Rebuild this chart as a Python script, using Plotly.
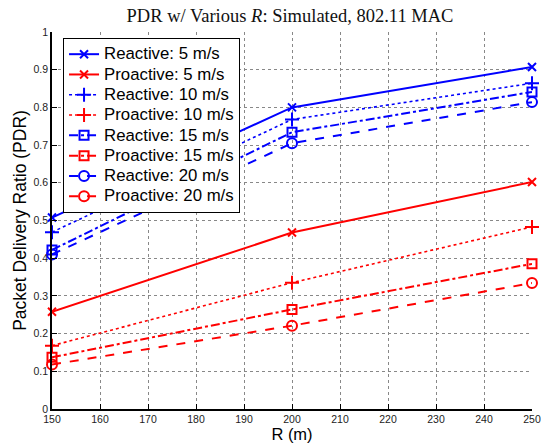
import plotly.graph_objects as go

R = [150, 200, 250]
reactive_5 = [0.508, 0.800, 0.907]
proactive_5 = [0.258, 0.468, 0.602]
reactive_10 = [0.469, 0.768, 0.864]
proactive_10 = [0.168, 0.335, 0.483]
reactive_15 = [0.422, 0.734, 0.841]
proactive_15 = [0.137, 0.264, 0.385]
reactive_20 = [0.410, 0.705, 0.814]
proactive_20 = [0.118, 0.221, 0.334]

names = ["Reactive: 5 m/s", "Proactive: 5 m/s", "Reactive: 10 m/s", "Proactive: 10 m/s",
         "Reactive: 15 m/s", "Proactive: 15 m/s", "Reactive: 20 m/s", "Proactive: 20 m/s"]
series = [reactive_5, proactive_5, reactive_10, proactive_10,
          reactive_15, proactive_15, reactive_20, proactive_20]
colors = ["#0000ff", "#ff0000"] * 4
dashes = ["solid", "solid", "dot", "dot", "dashdot", "dashdot", "dash", "dash"]
widths = [2, 2, 1.6, 1.6, 2, 2, 2, 2]
symbols = ["x-thin-open", "x-thin-open", "cross-thin-open", "cross-thin-open",
           "square-open", "square-open", "circle-open", "circle-open"]
sizes = [8, 8, 10, 10, 9, 9, 10, 10]

fig = go.Figure()
for n, y, c, d, w, s, sz in zip(names, series, colors, dashes, widths, symbols, sizes):
    fig.add_trace(go.Scatter(
        x=R, y=y, mode="lines+markers", cliponaxis=False,
        name='<span style="font-size:16.8px">' + n + '</span>',
        line=dict(color=c, width=w, dash=d),
        marker=dict(symbol=s, size=sz, color=c, line=dict(color=c, width=2)),
    ))

fig.update_layout(
    width=541, height=445,
    margin=dict(l=52, r=9, t=32, b=36),
    paper_bgcolor="white", plot_bgcolor="white",
    title=dict(text="PDR w/ Various <i>R</i>: Simulated, 802.11 MAC",
               x=0.536, xanchor="center", y=0.966, yanchor="middle",
               font=dict(family="Liberation Serif", size=18.5, color="#111")),
    font=dict(family="Liberation Sans", color="#222"),
    showlegend=True,
    legend=dict(x=0.023, y=0.984, xanchor="left", yanchor="top",
                bgcolor="white", bordercolor="black", borderwidth=1,
                font=dict(family="Liberation Sans", size=13.3, color="black"),
                tracegroupgap=0, itemwidth=30),
)
fig.update_xaxes(
    range=[150, 250], dtick=10, tick0=150, automargin=False,
    showline=True, linecolor="black", linewidth=1.5, mirror=False,
    ticks="inside", ticklen=5, tickcolor="black",
    showgrid=True, gridcolor="#888", griddash="dot", gridwidth=1,
    zeroline=False, ticklabeloverflow="allow",
    tickfont=dict(size=10.5, color="#222"),
    title=dict(text="R (m)", font=dict(size=16.5, color="black"), standoff=2),
)
fig.update_yaxes(
    range=[0, 1], dtick=0.1, tick0=0, automargin=False,
    showline=True, linecolor="black", linewidth=1.5, mirror=False,
    ticks="inside", ticklen=5, tickcolor="black",
    showgrid=True, gridcolor="#888", griddash="dot", gridwidth=1,
    zeroline=False,
    tickfont=dict(size=10.5, color="#222"),
    title=dict(text="Packet Delivery Ratio (PDR)", font=dict(size=17.5, color="black"), standoff=2),
)

fig.write_html("out.html", config={"displayModeBar": False},
               post_script="document.body.style.margin='0px';")
